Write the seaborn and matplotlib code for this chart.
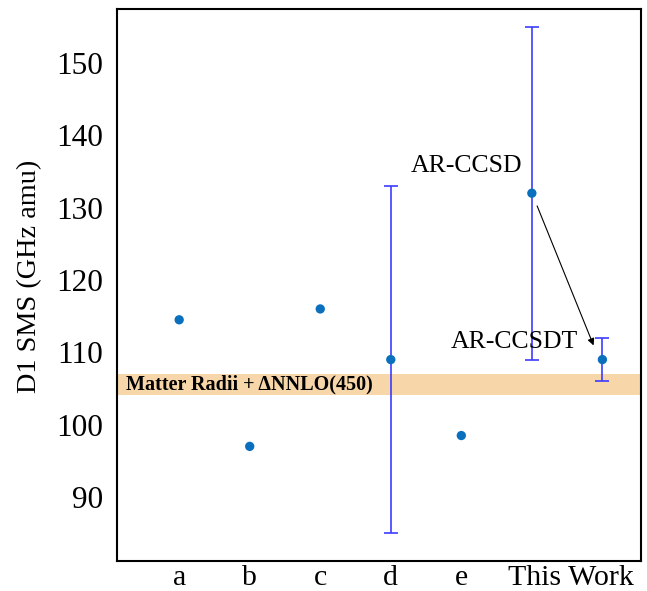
import numpy as np
import pandas as pd
import matplotlib.pyplot as plt
import seaborn as sns

# --- data ---
labels = ['a', 'b', 'c', 'd', 'e', 'AR-CCSD', 'AR-CCSDT']
positions = [1, 2, 3, 4, 5, 6, 7]
sms_values = [114.5, 97.0, 116.0, 109.0, 98.5, 132.0, 109.0]
err_lo = [0, 0, 0, 24.0, 0, 23.0, 3.0]
err_hi = [0, 0, 0, 24.0, 0, 23.0, 3.0]

band_lo, band_hi = 104.1, 107.0
band_label = 'Matter Radii + ΔNNLO(450)'
tick_names = ['a', 'b', 'c', 'd', 'e']

df = pd.DataFrame({'pos': positions, 'sms': sms_values, 'lo': err_lo, 'hi': err_hi, 'name': labels})

sns.set_style('white')
plt.rcParams['font.family'] = ['Liberation Serif', 'DejaVu Serif']
plt.rcParams['text.color'] = 'black'
plt.rcParams['axes.labelcolor'] = 'black'
plt.rcParams['xtick.color'] = 'black'
plt.rcParams['ytick.color'] = 'black'

fig = plt.figure(figsize=(6.47, 5.91), dpi=100)
ax = fig.add_axes([0.181, 0.0513, 0.81, 0.9327])

# shaded band
ax.axhspan(band_lo, band_hi, color='#f7d6aa', zorder=0, lw=0)
ax.text(0.24, (band_lo + band_hi) / 2, band_label, fontsize=14.5, fontweight='bold',
        va='center', ha='left', zorder=3)

# error bars (only where they exist)
has_err = df[(df['lo'] > 0) | (df['hi'] > 0)]
ax.errorbar(has_err['pos'], has_err['sms'], yerr=[has_err['lo'], has_err['hi']],
            fmt='none', ecolor='#3c3cff', elinewidth=1.2, capsize=5, capthick=1.2, zorder=2)

sns.scatterplot(data=df, x='pos', y='sms', color='#0a70bd', s=45, edgecolor='none', zorder=4, ax=ax)

# annotations
ax.text(5.08, 135.7, 'AR-CCSD', fontsize=18.5, ha='center', va='center')
ax.text(5.75, 111.45, 'AR-CCSDT', fontsize=18.5, ha='center', va='center')
ax.annotate('', xy=(6.89, 110.6), xytext=(6.06, 130.6),
            arrowprops=dict(arrowstyle='-|>', color='black', lw=0.8, mutation_scale=10))

ax.set_xlim(0.12, 7.55)
ax.set_ylim(81.2, 157.4)
ax.set_xticks(positions)
ax.set_xticklabels(tick_names + ['', ''])
ax.set_xticks([6.55], minor=True)
ax.set_xticklabels(['This Work'], minor=True)
ax.tick_params(axis='x', which='minor', length=0, labelsize=21.5, pad=3)
ax.tick_params(axis='x', which='major', direction='in', length=3, width=0.8, labelsize=21.5, pad=3)
ax.set_yticks([90, 100, 110, 120, 130, 140, 150])
ax.tick_params(axis='y', direction='in', length=3, width=0.8, labelsize=22.5, pad=10)
ax.set_xlabel('')
ax.set_ylabel('D1 SMS (GHz amu)', fontsize=20.3)
ax.yaxis.set_label_coords(-0.143, 0.5165)

for side in ax.spines.values():
    side.set_linewidth(1.5)
    side.set_color('black')

fig.savefig('out.png', dpi=100)
